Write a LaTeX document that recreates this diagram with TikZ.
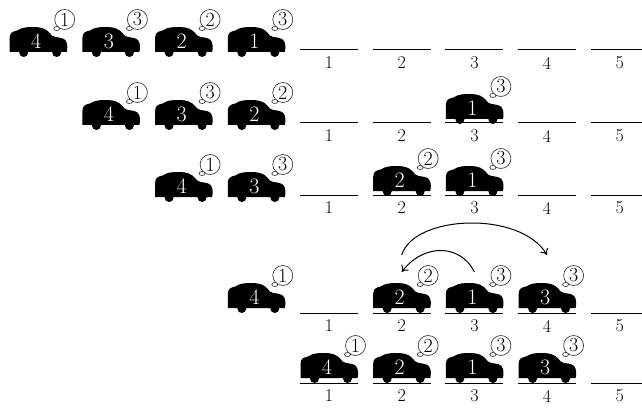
\documentclass[tikz,border=0pt]{standalone}
\usepackage{tikz}
\usetikzlibrary{arrows.meta}

\tikzset{
  pics/car/.style args={#1/#2}{code={
    % body, rear on the left
    \fill (-28.5,-5) -- (-28.5,-19)
      .. controls (-28.5,-24) and (-26,-25.5) .. (-21,-26.5)
      .. controls (-16,-30) and (-10,-30) .. (-4,-30)
      .. controls (3,-30) and (8,-28) .. (11,-24.5)
      .. controls (13,-22) and (14,-20.5) .. (17,-20)
      .. controls (21,-19.5) and (25,-19) .. (27,-17)
      .. controls (29.5,-14) and (29.5,-9) .. (28.5,-5) -- cycle;
    % wheels
    \fill (-14.5,-4.5) circle (4.5pt) (18.5,-4.5) circle (4.5pt);
    \node[carnum] (-num) at (-2,-16) {#1};
    \coordinate (-roof) at (0,-29);
    % thought bubble
    \node[bubble] (-bubble) at (26.5,-37.5) {#2};
    \draw[bubbleline, fill=white] (18.5,-28.5) ellipse (3pt and 2pt);
  }}
}

\begin{document}
\begin{tikzpicture} [
    x=1pt, y=-1pt,
    slot/.style       = { draw, line width=1pt },
    slotnum/.style    = { font=\fontsize{18}{20}\selectfont, inner sep=0pt },
    carnum/.style     = { text=white, font=\fontsize{22}{24}\selectfont, inner sep=0pt },
    bubbleline/.style = { draw=black!75, line width=0.7pt },
    bubble/.style     = { bubbleline, circle, fill=white, inner sep=0pt,
                          minimum size=20pt, font=\fontsize{20}{22}\selectfont },
    move/.style       = { draw, line width=1pt, -{To[length=6pt,width=9pt]} },
  ]
  \useasboundingbox (0,0) rectangle (642,409);

  % parking slots of every row
  \foreach \y/\r in {50/1,123/2,195/3,313/4,383/5} {
    \foreach \i in {1,...,5} {
      \draw[slot] ({256.3+72.7*\i-29},\y) -- ++(58,0);
      \node[slotnum] (s\r-\i) at ({256.3+72.7*\i},\y+13) {\i};
    }
  }

  % row 1
  \pic (r1c4) at (38.2,57)  {car=4/1};
  \pic (r1c3) at (110.9,57) {car=3/3};
  \pic (r1c2) at (183.6,57) {car=2/2};
  \pic (r1c1) at (256.3,57) {car=1/3};

  % row 2
  \pic (r2c4) at (110.9,130) {car=4/1};
  \pic (r2c3) at (183.6,130) {car=3/3};
  \pic (r2c2) at (256.3,130) {car=2/2};
  \pic (r2c1) at (474.4,124) {car=1/3};

  % row 3
  \pic (r3c4) at (183.6,202) {car=4/1};
  \pic (r3c3) at (256.3,202) {car=3/3};
  \pic (r3c2) at (401.7,196) {car=2/2};
  \pic (r3c1) at (474.4,196) {car=1/3};

  % row 4
  \pic (r4c4) at (256.3,313) {car=4/1};
  \pic (r4c2) at (401.7,313) {car=2/2};
  \pic (r4c1) at (474.4,313) {car=1/3};
  \pic (r4c3) at (547.1,313) {car=3/3};

  % row 5
  \pic (r5c4) at (329,383)   {car=4/1};
  \pic (r5c2) at (401.7,383) {car=2/2};
  \pic (r5c1) at (474.4,383) {car=1/3};
  \pic (r5c3) at (547.1,383) {car=3/3};

  % moves in row 4
  \path[move] ([yshift=12pt]r4c1-roof)
      .. controls +(-13,-27) and +(23,-30) .. ([yshift=12pt]r4c2-roof);
  \path[move] ([yshift=29pt]r4c2-roof)
      .. controls +(12,-40) and +(-27,-45) .. ([yshift=29pt]r4c3-roof);
\end{tikzpicture}
\end{document}
